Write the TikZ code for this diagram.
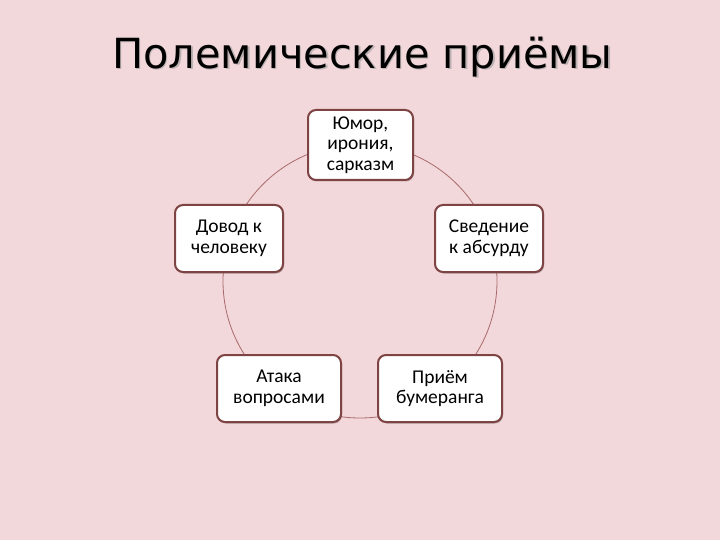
\documentclass[tikz,border=0pt]{standalone}
\usepackage{fontspec}
\setmainfont{Carlito}
\newfontfamily\titlefont{DejaVu Sans}
\usetikzlibrary{shadows}
\definecolor{bg}{HTML}{F3D8DB}
\definecolor{boxline}{HTML}{7E4343}
\definecolor{ringline}{HTML}{A86A6A}
\tikzset{
  stepbox/.style={draw=boxline, line width=2pt, fill=white, rounded corners=8pt,
    align=center, font=\fontsize{19.5}{20.5}\selectfont, inner sep=0pt,
    drop shadow={shadow xshift=1pt, shadow yshift=-1.5pt, opacity=0.25, fill=black}},
}
\begin{document}
\begin{tikzpicture}[x=1pt,y=-1pt]
\fill[bg] (0,0) rectangle (720,540);
\useasboundingbox (0,0) rectangle (720,540);
\node[font=\titlefont\fontsize{41.5}{44}\selectfont, text=black!40, opacity=0.6] (titleshadow) at (364,58.5) {Полемические приёмы};
\node[font=\titlefont\fontsize{41.5}{44}\selectfont] (title) at (362.5,57) {Полемические приёмы};
\draw[ringline, line width=0.8pt] (360,281) circle (137);
\node[stepbox, minimum width=105pt, minimum height=70pt] (a) at (360.5,145) {Юмор,\\ирония,\\сарказм};
\node[stepbox, minimum width=108pt, minimum height=67pt] (b) at (489,238.5) {Сведение\\к абсурду};
\node[stepbox, minimum width=124pt, minimum height=67pt] (c) at (440,388.5) {Приём\\бумеранга};
\node[stepbox, minimum width=124pt, minimum height=67pt] (d) at (279,388.5) {Атака\\вопросами};
\node[stepbox, minimum width=108pt, minimum height=67pt] (e) at (229,238.5) {Довод к\\человеку};
\end{tikzpicture}
\end{document}
